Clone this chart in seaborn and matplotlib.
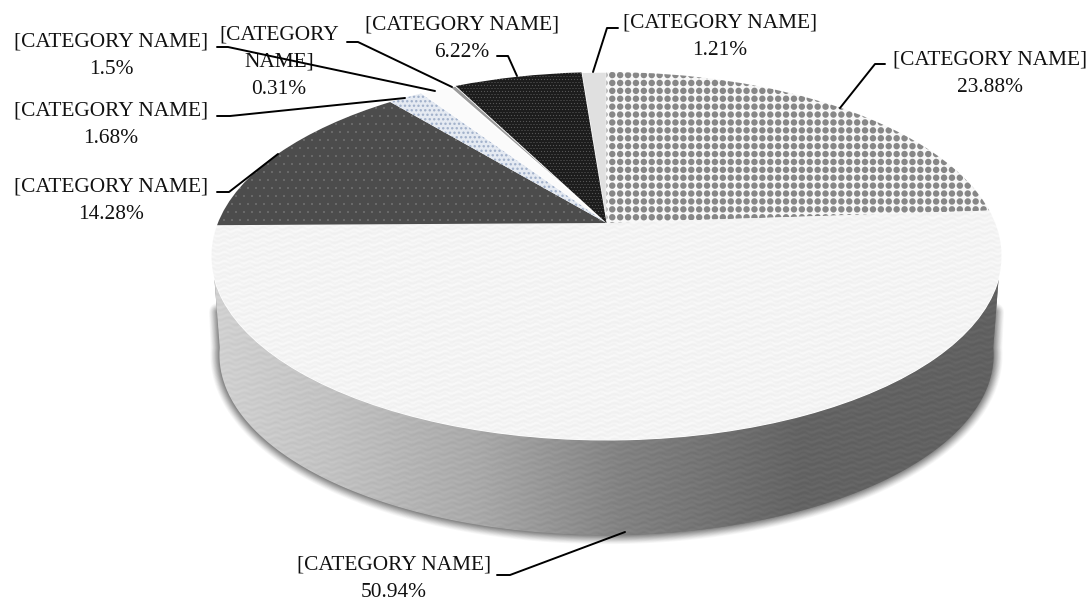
import numpy as np
import matplotlib
matplotlib.use('Agg')
import matplotlib.pyplot as plt
import seaborn as sns
from matplotlib.patches import Polygon
from matplotlib.transforms import Transform

# Data, clockwise from 12 o'clock
categories = ['[CATEGORY NAME]'] * 8
values = [23.88, 50.94, 14.28, 1.68, 1.5, 0.31, 6.22, 1.21]
slice_colors = ['#f6f6f6', '#f2f2f2', '#4c4c4c', '#c8d2e0', '#fbfbfb', '#9a9a9a', '#1e1e1e', '#e0e0e0']

W, H = 1089, 601

# Label centre, then the leader line, in picture pixels (same order as values)
label_centres = [(990, 73.5), (394, 579), (111, 200.5), (111, 125), (111, 55.5), (279, 62.5), (462, 38.5), (720, 37)]
leaders = [
    [(885, 64), (875, 64), (840, 108)],
    [(497, 575), (510, 575), (625, 532)],
    [(217, 192), (229, 192), (278, 154)],
    [(217, 116), (230, 116), (405, 98)],
    [(217, 47), (228, 47), (435, 91)],
    [(347, 42), (358, 42), (452, 87)],
    [(497, 56), (508, 56), (517, 76)],
    [(618, 28), (607, 28), (593, 72)],
]


class Tilt(Transform):
    # perspective view of the unit circle, output in picture pixels
    input_dims = output_dims = 2

    def __init__(self, scale=1.0, drop=0.0):
        super().__init__()
        self.scale = scale
        self.drop = drop

    def transform_non_affine(self, xy):
        xy = np.asarray(xy, dtype=float)
        w = 1 + 0.179 * xy[:, 1]
        px = 388.6 * xy[:, 0] / w
        py = 223 - 178 * xy[:, 1] / w - 256
        return np.column_stack([606.5 + self.scale * px, 256 + self.drop + self.scale * py])


def rim(tilt, start, stop):
    t = np.radians(np.linspace(start, stop, 300))
    return tilt.transform_non_affine(np.column_stack([np.cos(t), np.sin(t)]))


yy, xx = np.mgrid[0:H, 0:W] + 0.5


def grid_dots(period, radius, stagger=False):
    # 1 inside a dot, 0 outside, soft edge
    row = np.floor(yy / period)
    shift = (row % 2) * period / 2 if stagger else 0
    dx = (xx + shift) % period - period / 2
    dy = yy % period - period / 2
    return np.clip(radius + 0.5 - np.hypot(dx, dy), 0, 1)


def waves(py=4.5, px=13.0):
    # woven paper look, two wave sizes on top of each other
    return (np.sin(2 * np.pi * yy / py + 1.6 * np.sin(2 * np.pi * xx / px))
            + 0.6 * np.sin(2 * np.pi * (yy / 9.0 + xx / 31.0)))


tex_diamond = 0.97 - 0.44 * grid_dots(7.9, 3.2)
tex_paper = 0.955 + 0.011 * waves()
tex_dark = 0.30 + 0.14 * grid_dots(8.0, 1.0, stagger=True)
tex_black = 0.11 + 0.22 * grid_dots(3.0, 0.6, stagger=True)
dots_blue = grid_dots(4.5, 1.2, stagger=True)
tex_blue = np.dstack([0.90 - 0.26 * dots_blue, 0.92 - 0.22 * dots_blue, 0.95 - 0.15 * dots_blue])
textures = {0: tex_diamond, 1: tex_paper, 2: tex_dark, 3: tex_blue, 6: tex_black}

sns.set_theme(style='white')
plt.rcParams['font.family'] = ['Liberation Serif', 'DejaVu Serif']

fig, ax = plt.subplots(figsize=(W / 100, H / 100), dpi=100)
fig.subplots_adjust(0, 0, 1, 1)

wedges, _ = ax.pie(values, startangle=90, counterclock=False, radius=1,
                   colors=sns.color_palette(slice_colors))
ax.set_aspect('auto')
ax.set_axis_off()

top = Tilt()
bottom = Tilt(scale=0.98, drop=99)
for i, wedge in enumerate(wedges):
    wedge.set_transform(top + ax.transData)
    wedge.set_zorder(2)
    if i in textures:
        im = ax.imshow(textures[i], cmap='gray', vmin=0, vmax=1, extent=(0, W, H, 0),
                       zorder=3, aspect='auto', interpolation='bilinear')
        im.set_clip_path(wedge)

# soft shadow round the foot of the disc, running a little way up both sides
foot = rim(bottom, -172, -8)
foot = np.vstack([[(218, 312)], foot, [(995, 312)]])
for lw, a in zip(np.linspace(13, 1, 12), np.linspace(0.03, 0.09, 12)):
    ax.plot(foot[:, 0], foot[:, 1], color='#222222', lw=lw, alpha=a, zorder=0.5,
            solid_capstyle='round')

# side wall, light on the left and dark on the right
shade = np.interp(xx, [210, 330, 480, 620, 800, 1010], [0.82, 0.76, 0.66, 0.51, 0.39, 0.38])
wall_tex = shade + 0.012 * waves(5.0, 16.0)
wall_shape = Polygon(np.vstack([rim(top, -163, -17), rim(bottom, -8, -172)]), closed=True,
                     facecolor='#777777', edgecolor='none', zorder=0.8)
ax.add_patch(wall_shape)
wall = ax.imshow(wall_tex, cmap='gray', vmin=0, vmax=1, extent=(0, W, H, 0),
                 zorder=1, aspect='auto', interpolation='bilinear')
wall.set_clip_path(wall_shape)
ax.set_xlim(0, W)
ax.set_ylim(H, 0)

# Labels and leader lines
for i, (cat, val) in enumerate(zip(categories, values)):
    name = cat if val != 0.31 else '[CATEGORY\nNAME]'
    ax.text(*label_centres[i], f'{name}\n{val}%', ha='center', va='center', ma='center',
            fontsize=15.4, color='#111111', linespacing=1.58, zorder=5)
    xs, ys = zip(*leaders[i])
    ax.plot(xs, ys, color='black', lw=1.4, zorder=6, solid_joinstyle='round')

plt.savefig('out.png', dpi=100)
